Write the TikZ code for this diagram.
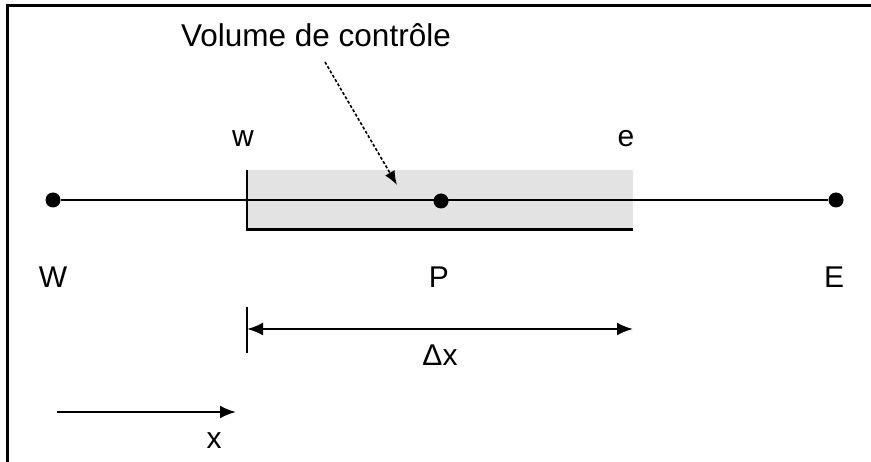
\documentclass[tikz,border=0pt]{standalone}
\usepackage{fontspec}
\setmainfont{Liberation Sans}
\usetikzlibrary{arrows.meta}
\begin{document}
\begin{tikzpicture}[x=1pt,y=-1pt,
  lbl/.style={inner sep=0pt,font=\fontsize{30}{35}\selectfont},
  dotnode/.style={circle,fill=black,inner sep=0pt,minimum size=15pt},
  thinline/.style={line width=2.4pt},
  tipstyle/.style={-{Latex[length=16pt,width=13pt]}},
  arr/.style={line width=2.4pt,tipstyle},
  frameline/.style={line width=3pt}]
\useasboundingbox (0,0) rectangle (871,462);
% frame
\coordinate (f1) at (871,6);
\coordinate (f2) at (7,6);
\coordinate (f3) at (7,462);
\draw[frameline] (f1) -- (f2) -- (f3);
% control volume
\node[fill=black!11,inner sep=0pt,minimum width=386pt,minimum height=59pt,anchor=north west] (cv) at (247,170) {};
\draw[thinline] (cv.north west) -- (cv.south west) -- (cv.south east);
% main line and dots
\node[dotnode] (W) at (53,200) {};
\node[dotnode] (P) at (441,201) {};
\node[dotnode] (E) at (836,200) {};
\draw[thinline] (W) -- (E);
% labels
\node[lbl] (lw) at (243,139) {w};
\node[lbl] (le) at (626,139) {e};
\node[lbl] (lW) at (53,277) {W};
\node[lbl] (lP) at (439,277) {P};
\node[lbl] (lE) at (834,277) {E};
\node[lbl,font=\fontsize{31.5}{36}\selectfont] (title) at (316,35) {Volume de contrôle};
\coordinate (tip) at (397,185);
\draw[line width=1.6pt,densely dashed,-{Latex[length=14pt,width=11pt]}] (325,62) -- (tip);
% dimension
\coordinate (t1) at (247,307);
\coordinate (t2) at (247,353);
\draw[thinline] (t1) -- (t2);
\coordinate (d1) at (247,329);
\coordinate (d2) at (633,329);
\draw[line width=2.4pt,{Latex[length=16pt,width=13pt]}-{Latex[length=16pt,width=13pt]}] (d1) -- (d2);
\node[lbl] (dx) at (440,355) {Δx};
% axis
\coordinate (a1) at (57,412);
\coordinate (a2) at (236,412);
\draw[arr] (a1) -- (a2);
\node[lbl] (lx) at (214,441) {x};
\end{tikzpicture}
\end{document}
